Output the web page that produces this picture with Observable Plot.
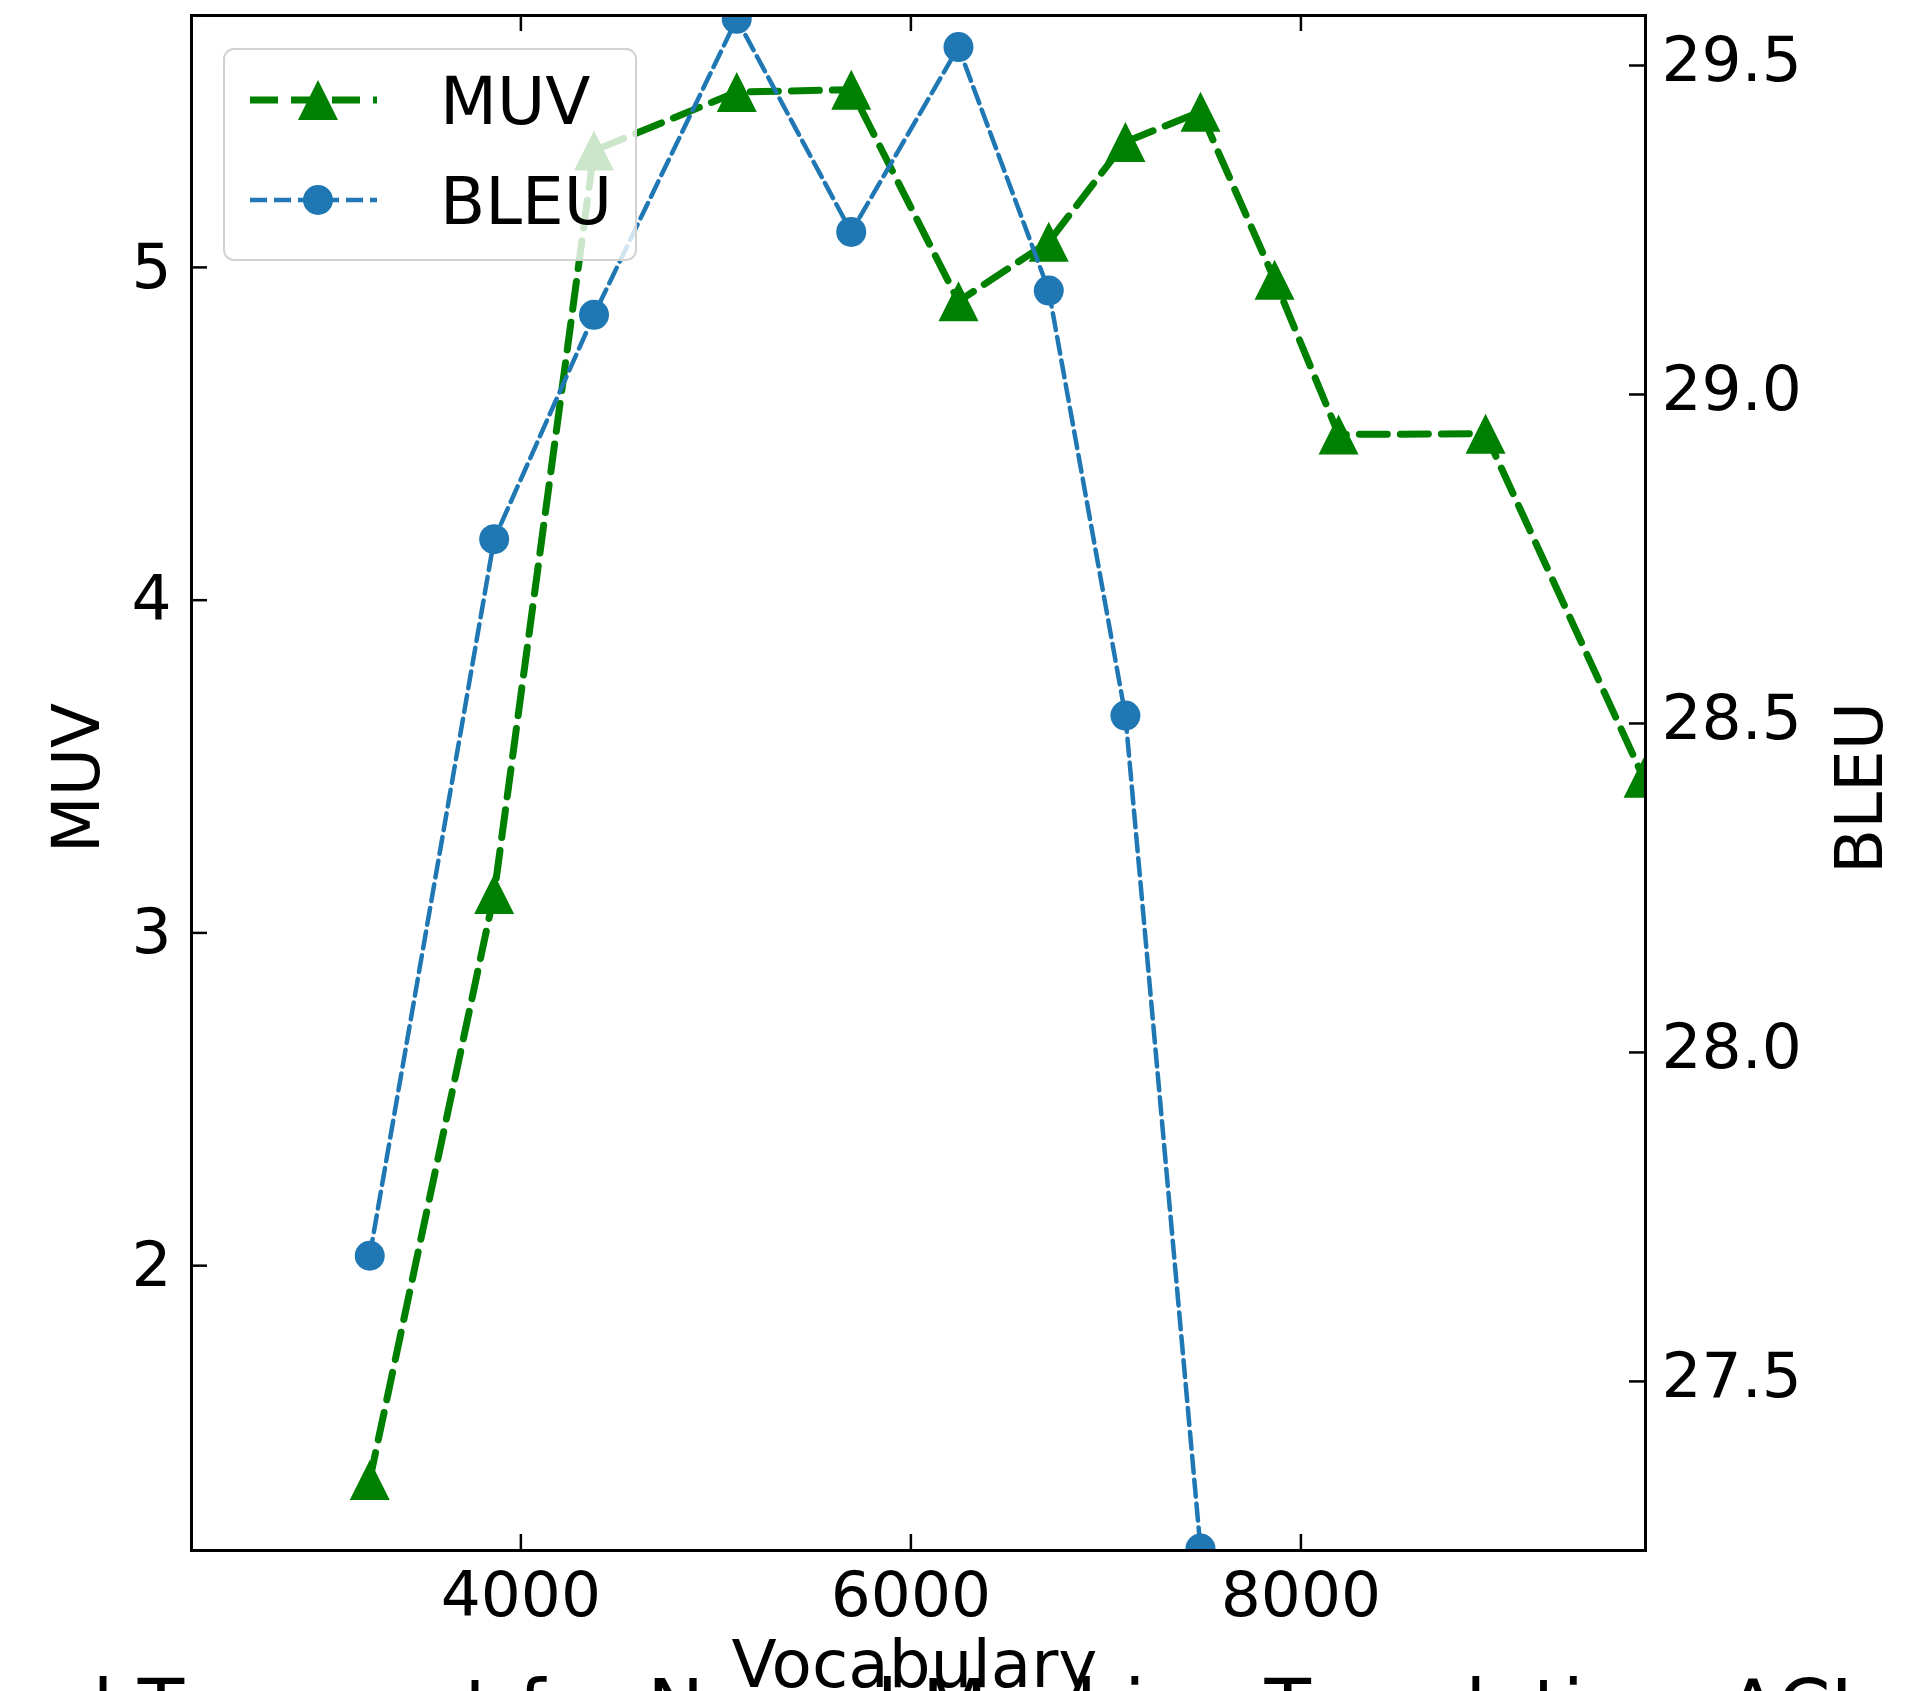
<!DOCTYPE html>
<html>
<head>
<meta charset="utf-8">
<script src="https://cdn.jsdelivr.net/npm/d3@7"></script>
<script src="https://cdn.jsdelivr.net/npm/@observablehq/plot@0.6"></script>
<style>
html, body { margin: 0; padding: 0; overflow: hidden; background: #fff; width: 1911px; height: 1691px; }
#wrap { position: relative; width: 1911px; height: 1691px; }
#legend { position: absolute; left: 223px; top: 48px; width: 410px; height: 209px; border: 2px solid #d2d2d2; border-radius: 11px; background: rgba(255,255,255,0.8); }
#legend svg { position: absolute; left: 0; top: 0; }
</style>
</head>
<body>
<div id="wrap"></div>
<script>
// ---- data ----
const vocabulary = [3225, 3863, 4375, 5107, 5694, 6244, 6707, 7100, 7485, 7865, 8193, 8947, 9757];
const muv = [1.356, 3.117, 5.351, 5.527, 5.534, 4.898, 5.077, 5.377, 5.468, 4.963, 4.498, 4.50, 3.466];
const bleu = [27.691, 28.780, 29.121, 29.571, 29.247, 29.528, 29.158, 28.512, 27.246];
const vocabTicks = [4000, 6000, 8000];
const muvTicks = [2, 3, 4, 5];
const bleuTicks = [27.5, 28.0, 28.5, 29.0, 29.5];
const seriesNames = ["MUV", "BLEU"];
const xLabel = "Vocabulary";
const caption = "l Transport for Neural Machine Translation, ACL";

// ---- layout ----
const W = 1911, H = 1691;
const mL = 191, mR = 266, mT = 15, mB = 141;
const innerW = W - mL - mR, innerH = H - mT - mB;
const tickLen = 16;
const green = "#008000", blue = "#1f77b4";
const muvDomain = [1.144, 5.757];
const bleuDomain = [27.243, 29.576];
const bleuToMuv = d3.scaleLinear().domain(bleuDomain).range(muvDomain);

const muvData = vocabulary.map((v, i) => ({v, y: muv[i]}));
const bleuData = bleu.map((b, i) => ({v: vocabulary[i], y: bleuToMuv(b)}));

// matplotlib-style "^" marker (bbox-centred)
const triangleUp = {
  draw(ctx, size) {
    const a = Math.sqrt(size / Math.PI);
    ctx.moveTo(0, -a); ctx.lineTo(a, a); ctx.lineTo(-a, a); ctx.closePath();
  }
};

const chart = Plot.plot({
  width: W, height: H,
  marginLeft: mL, marginRight: mR, marginTop: mT, marginBottom: mB,
  style: {fontFamily: "DejaVu Sans", fontSize: "63px", color: "black", background: "white", overflow: "visible"},
  x: {domain: [2311, 9767]},
  y: {domain: muvDomain},
  marks: [
    // MUV (left axis)
    Plot.line(muvData, {x: "v", y: "y", stroke: green, strokeWidth: 7, strokeDasharray: "28,13", clip: true}),
    Plot.dot(muvData, {x: "v", y: "y", symbol: triangleUp, r: 20, fill: green, stroke: "none", clip: true}),
    // BLEU (right axis)
    Plot.line(bleuData, {x: "v", y: "y", stroke: blue, strokeWidth: 4.5, strokeDasharray: "17,7", clip: true}),
    Plot.dot(bleuData, {x: "v", y: "y", r: 15, fill: blue, stroke: "none", clip: true}),
    // inward ticks
    Plot.tickX(vocabTicks, {x: d => d, insetTop: innerH - tickLen, stroke: "black", strokeWidth: 2.5}),
    Plot.tickX(vocabTicks, {x: d => d, insetBottom: innerH - tickLen, stroke: "black", strokeWidth: 2.5}),
    Plot.tickY(muvTicks, {y: d => d, insetRight: innerW - tickLen, stroke: "black", strokeWidth: 2.5}),
    Plot.tickY(bleuTicks, {y: d => bleuToMuv(d), insetLeft: innerW - tickLen, stroke: "black", strokeWidth: 2.5}),
    // tick labels
    Plot.axisX({ticks: vocabTicks, tickFormat: d => String(d), tickSize: 0, tickPadding: 21, label: null, fontSize: 63}),
    Plot.axisY({anchor: "left", ticks: muvTicks, tickFormat: d => String(d), tickSize: 0, tickPadding: 20, label: null, fontSize: 63}),
    Plot.axisY({anchor: "right", ticks: bleuTicks.map(bleuToMuv), tickFormat: d => bleuToMuv.invert(d).toFixed(1), tickSize: 0, tickPadding: 16, label: null, fontSize: 63, dy: -5}),
    Plot.frame({stroke: "black", strokeWidth: 3}),
    // axis titles and caption
    Plot.text([caption], {text: d => d, frameAnchor: "bottom-left", textAnchor: "start", lineAnchor: "middle", dx: -99, dy: 159, fontSize: 76}),
    Plot.text([xLabel], {text: d => d, frameAnchor: "bottom", textAnchor: "middle", lineAnchor: "middle", dx: -4, dy: 115, fontSize: 66}),
    Plot.text([seriesNames[0]], {text: d => d, frameAnchor: "left", textAnchor: "middle", rotate: -90, lineAnchor: "middle", dx: -114, dy: -5, fontSize: 66}),
    Plot.text([seriesNames[1]], {text: d => d, frameAnchor: "right", textAnchor: "middle", rotate: -90, lineAnchor: "middle", dx: 215, dy: 5, fontSize: 66})
  ]
});
document.getElementById("wrap").appendChild(chart);

// ---- legend (matplotlib-style box, semi-transparent) ----
const legend = d3.select("#wrap").append("div").attr("id", "legend");
const lsvg = legend.append("svg").attr("width", 410).attr("height", 209);
const rows = [
  {name: seriesNames[0], color: green, width: 7, dash: "28,13", y: 50, marker: "tri"},
  {name: seriesNames[1], color: blue, width: 4.5, dash: "17,7", y: 150, marker: "circle"}
];
rows.forEach(r => {
  lsvg.append("line").attr("x1", 25).attr("x2", 152).attr("y1", r.y).attr("y2", r.y)
    .attr("stroke", r.color).attr("stroke-width", r.width).attr("stroke-dasharray", r.dash);
  if (r.marker === "tri") {
    const p = d3.path(); triangleUp.draw(p, Math.PI * 20 * 20);
    lsvg.append("path").attr("d", p.toString()).attr("transform", `translate(93,${r.y})`).attr("fill", r.color);
  } else {
    lsvg.append("circle").attr("cx", 93).attr("cy", r.y).attr("r", 15).attr("fill", r.color);
  }
  lsvg.append("text").attr("x", 215).attr("y", r.y + 24).attr("font-family", "DejaVu Sans")
    .attr("font-size", 66).attr("fill", "black").text(r.name);
});
</script>
</body>
</html>
